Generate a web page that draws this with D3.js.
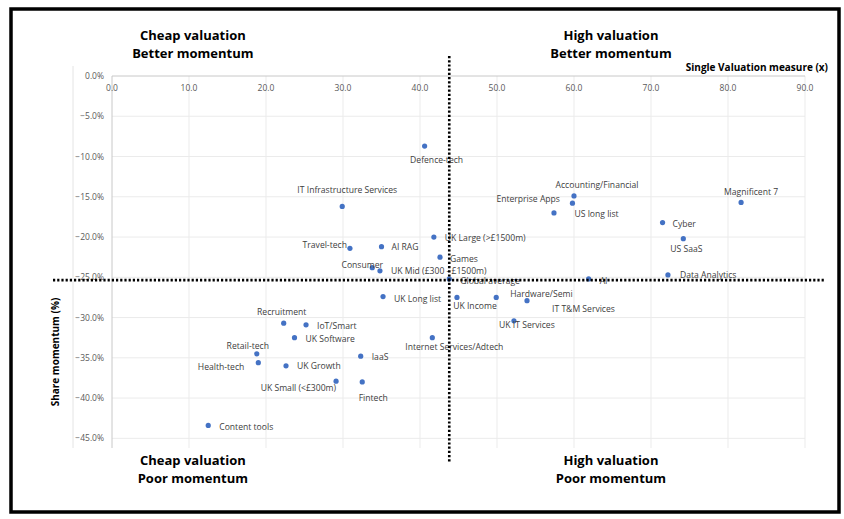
<!DOCTYPE html>
<html>
<head>
<meta charset="utf-8">
<script src="https://cdn.jsdelivr.net/npm/d3@7"></script>
<style>
  body { margin: 0; background: #fff; }
  text { font-family: "Open Sans", "Noto Sans", sans-serif; }
</style>
</head>
<body>
<script>
// chart data
var names = ["Defence-tech", "IT Infrastructure Services", "UK Large (>£1500m)", "Accounting/Financial",
    "US long list", "Enterprise Apps", "Magnificent 7", "Cyber", "US SaaS", "Travel-tech", "AI RAG",
    "Games", "Consumer", "UK Mid (£300 - £1500m)", "Global average", "UK Long list", "UK Income",
    "Hardware/Semi", "IT T&M Services", "UK IT Services", "Internet Services/Adtech", "Recruitment",
    "IoT/Smart", "UK Software", "Retail-tech", "Health-tech", "UK Growth", "IaaS", "UK Small (<£300m)",
    "Fintech", "Content tools", "Data Analytics", "AI"];
var valuation = [40.6, 29.9, 41.8, 60.0, 59.8, 57.4, 81.7, 71.5, 74.2, 30.9, 35.0,
    42.6, 33.8, 34.8, 43.8, 35.2, 44.8, 49.9, 53.9, 52.2, 41.6, 22.3,
    25.2, 23.7, 18.8, 19.0, 22.6, 32.3, 29.1, 32.5, 12.5, 72.2, 61.9];
var momentum = [-8.7, -16.2, -20.0, -14.9, -15.8, -17.0, -15.7, -18.2, -20.2, -21.4, -21.2,
    -22.5, -23.8, -24.2, -25.2, -27.4, -27.5, -27.5, -27.9, -30.4, -32.5, -30.7,
    -30.9, -32.5, -34.5, -35.6, -36.0, -34.8, -37.9, -38.0, -43.4, -24.7, -25.2];
var xTicks = [0, 10, 20, 30, 40, 50, 60, 70, 80, 90];
var yTicks = [0, -5, -10, -15, -20, -25, -30, -35, -40, -45];
var avgValuation = 43.8;
var avgMomentum = -25.35;
var quadrants = [
    { lines: ["Cheap valuation", "Better momentum"], x: 10.5, y: 4.5 },
    { lines: ["High valuation", "Better momentum"], x: 64.8, y: 4.5 },
    { lines: ["Cheap valuation", "Poor momentum"], x: 10.5, y: -48.3 },
    { lines: ["High valuation", "Poor momentum"], x: 64.8, y: -48.3 }
];

// where each label sits relative to its dot: [anchor, dx, dy]
var labelPlace = {
    "Defence-tech": ["middle", 12, 14],
    "IT Infrastructure Services": ["middle", 5, -16],
    "UK Large (>£1500m)": ["start", 11, 1],
    "Accounting/Financial": ["middle", 23, -11],
    "US long list": ["start", 2, 11],
    "Enterprise Apps": ["end", 6, -14],
    "Magnificent 7": ["middle", 10, -10],
    "Cyber": ["start", 10, 1],
    "US SaaS": ["middle", 3, 10],
    "Travel-tech": ["end", -3, -3],
    "AI RAG": ["start", 10, 0],
    "Games": ["start", 10, 2],
    "Consumer": ["middle", -10, -3],
    "UK Mid (£300 - £1500m)": ["start", 11, 0],
    "Global average": ["start", 11, 2],
    "UK Long list": ["start", 11, 2],
    "UK Income": ["middle", 18, 9],
    "Hardware/Semi": ["start", 14, -3],
    "IT T&M Services": ["start", 25, 8],
    "UK IT Services": ["middle", 13, 4],
    "Internet Services/Adtech": ["middle", 22, 9],
    "Recruitment": ["middle", -2, -11],
    "IoT/Smart": ["start", 11, 1],
    "UK Software": ["start", 11, 1],
    "Retail-tech": ["middle", -9, -8],
    "Health-tech": ["end", -14, 4],
    "UK Growth": ["start", 11, 0],
    "IaaS": ["start", 11, 1],
    "UK Small (<£300m)": ["end", 0, 7],
    "Fintech": ["middle", 11, 16],
    "Content tools": ["start", 11, 2],
    "Data Analytics": ["start", 12, 0],
    "AI": ["start", 11, 2]
};

var W = 844, H = 519;
var svg = d3.select("body").append("svg")
    .attr("width", W)
    .attr("height", H);

svg.append("rect").attr("width", W).attr("height", H).attr("fill", "#fff");

var x = d3.scaleLinear().domain([0, 90]).range([112, 805]);
var y = d3.scaleLinear().domain([0, -46.2]).range([76, 448]);

// faint chart-area edge
svg.append("line")
    .attr("x1", 73).attr("x2", 73)
    .attr("y1", 66).attr("y2", 448)
    .attr("stroke", "#e4e4e4");

// gridlines
svg.append("g").selectAll("line")
    .data(yTicks.slice(1))
    .enter().append("line")
    .attr("x1", x(0)).attr("x2", x(90))
    .attr("y1", function (d) { return y(d); })
    .attr("y2", function (d) { return y(d); })
    .attr("stroke", "#ebebeb");

svg.append("g").selectAll("line")
    .data(xTicks.slice(1))
    .enter().append("line")
    .attr("x1", function (d) { return x(d); })
    .attr("x2", function (d) { return x(d); })
    .attr("y1", y(0)).attr("y2", y(-46.2))
    .attr("stroke", "#ebebeb");

// axis lines
svg.append("line")
    .attr("x1", x(0)).attr("x2", x(90))
    .attr("y1", y(0)).attr("y2", y(0))
    .attr("stroke", "#c8c8c8");
svg.append("line")
    .attr("x1", x(0)).attr("x2", x(0))
    .attr("y1", y(0)).attr("y2", y(-46.2))
    .attr("stroke", "#c8c8c8");

// tick labels
svg.append("g").selectAll("text")
    .data(xTicks)
    .enter().append("text")
    .attr("x", function (d) { return x(d); })
    .attr("y", y(0) + 15)
    .attr("text-anchor", "middle")
    .attr("font-size", 8.5)
    .attr("fill", "#595959")
    .text(function (d) { return d3.format(".1f")(d); });

svg.append("g").selectAll("text")
    .data(yTicks)
    .enter().append("text")
    .attr("x", 104)
    .attr("y", function (d) { return y(d) + 3; })
    .attr("text-anchor", "end")
    .attr("font-size", 8.5)
    .attr("fill", "#595959")
    .text(function (d) { return d3.format(".1f")(d) + "%"; });

// axis titles
svg.append("text")
    .attr("x", 828).attr("y", 71)
    .attr("text-anchor", "end")
    .attr("font-size", 10)
    .attr("font-weight", "bold")
    .attr("fill", "#000")
    .text("Single Valuation measure (x)");

svg.append("text")
    .attr("transform", "translate(59," + 352 + ") rotate(-90)")
    .attr("text-anchor", "middle")
    .attr("font-size", 10)
    .attr("font-weight", "bold")
    .attr("fill", "#000")
    .text("Share momentum (%)");

// points and labels
var pts = d3.range(names.length);

svg.append("g").selectAll("circle")
    .data(pts)
    .enter().append("circle")
    .attr("cx", function (i) { return x(valuation[i]); })
    .attr("cy", function (i) { return y(momentum[i]); })
    .attr("r", 2.6)
    .attr("fill", "#4472c4");

svg.append("g").selectAll("text")
    .data(pts)
    .enter().append("text")
    .attr("x", function (i) { return x(valuation[i]) + labelPlace[names[i]][1]; })
    .attr("y", function (i) { return y(momentum[i]) + labelPlace[names[i]][2] + 3; })
    .attr("text-anchor", function (i) { return labelPlace[names[i]][0]; })
    .attr("font-size", 8.6)
    .attr("fill", "#404040")
    .text(function (i) { return names[i]; });

// average dividers
svg.append("line")
    .attr("x1", x(avgValuation)).attr("x2", x(avgValuation))
    .attr("y1", 56).attr("y2", 463)
    .attr("stroke", "#000")
    .attr("stroke-width", 2.6)
    .attr("stroke-dasharray", "2.2,2");
svg.append("line")
    .attr("x1", 53).attr("x2", 824)
    .attr("y1", y(avgMomentum)).attr("y2", y(avgMomentum))
    .attr("stroke", "#000")
    .attr("stroke-width", 2.6)
    .attr("stroke-dasharray", "2.2,2");

// quadrant captions
quadrants.forEach(function (q) {
    var t = svg.append("text")
        .attr("text-anchor", "middle")
        .attr("font-size", 13)
        .attr("font-weight", "bold")
        .attr("fill", "#000");
    q.lines.forEach(function (s, k) {
        t.append("tspan")
            .attr("x", x(q.x))
            .attr("y", y(q.y) + k * 18)
            .text(s);
    });
});

// frame
svg.append("rect")
    .attr("x", 11).attr("y", 9)
    .attr("width", 828).attr("height", 503)
    .attr("fill", "none")
    .attr("stroke", "#000")
    .attr("stroke-width", 3.5);
</script>
</body>
</html>
